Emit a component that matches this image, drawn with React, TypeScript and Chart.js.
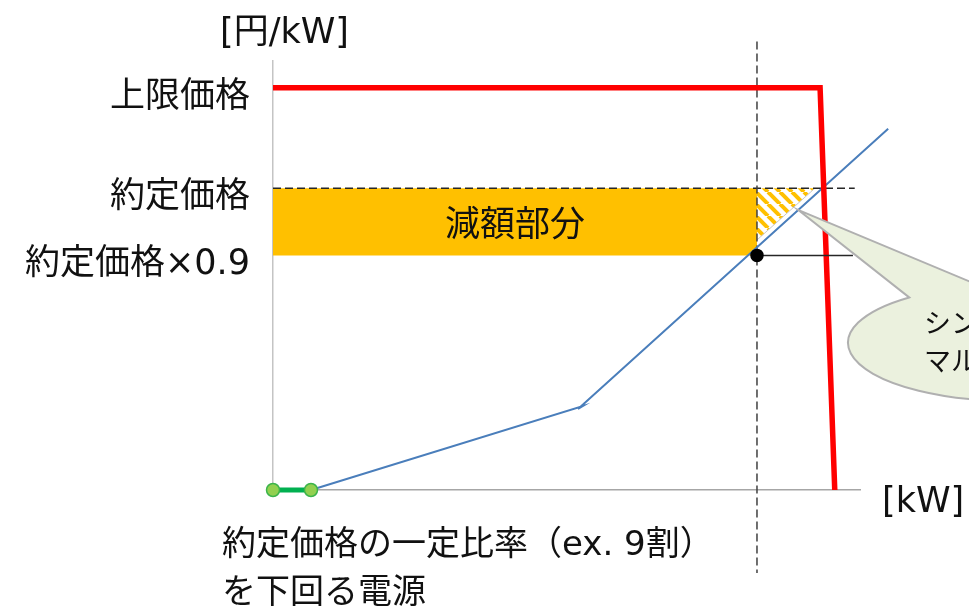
import { useEffect, useRef } from "react";
import { Chart, registerables } from "chart.js";

Chart.register(...registerables);

// Price levels in 円/kW, indexed so that the contract price is 100
const CONTRACT_PRICE = 100;
const REDUCTION_RATIO = 0.9;
const THRESHOLD_PRICE = CONTRACT_PRICE * REDUCTION_RATIO;
const UPPER_PRICE = 115;
const PRICE_MIN = 55;
const PRICE_MAX = 119;

// Capacity axis in kW (relative units)
const CAPACITY_MIN = 0;
const CAPACITY_MAX = 100;
const CLEARED_CAPACITY = 82.45;

// Supply curve
const supplyX = [6.47, 52.8, 51.96, 104.8];
const supplyY = [55, 67.54, 67.09, 108.9];

// Demand curve capped at the upper price
const demandX = [0, 93.2, 95.7];
const demandY = [UPPER_PRICE, UPPER_PRICE, 55];

// Sources bidding below contract price × 0.9
const excludedX = [0, 6.47];
const excludedY = [55, 55];

// Hatched margin between the contract price and the supply curve
const marginX = [CLEARED_CAPACITY, 92.3];
const marginY = [92.3, CONTRACT_PRICE];

// Reference lines
const contractLineX = [0, 99.1];
const clearedLineY = [121.9, 42.6];
const thresholdLineX = [CLEARED_CAPACITY, 98.8];

// Y-axis labels
const priceTickValues = [THRESHOLD_PRICE, CONTRACT_PRICE, UPPER_PRICE];
const priceTickLabels = ["約定価格×0.9", "約定価格", "上限価格"];

const yTitle = "[円/kW]";
const xTitle = "[kW]";
const reducedLabel = "減額部分";
const noteLines = ["約定価格の一定比率（ex. 9割）", "を下回る電源"];
const calloutLines = ["シングル", "マルチ"];

const FONT = "'DejaVu Sans', 'Noto Sans CJK JP', sans-serif";
const CJK_FONT = "'Noto Sans CJK JP', sans-serif";

const pts = (xs: number[], ys: number[]) => xs.map((x, i) => ({ x, y: ys[i] }));

function makeStripePattern(): CanvasPattern | string {
  const s = 12;
  const c = document.createElement("canvas");
  c.width = s;
  c.height = s;
  const g = c.getContext("2d");
  if (!g) return "#ffc000";
  g.fillStyle = "#ffffff";
  g.fillRect(0, 0, s, s);
  g.strokeStyle = "#ffc000";
  g.lineWidth = 4;
  for (let k = -1; k <= 1; k++) {
    g.beginPath();
    g.moveTo(k * s, 0);
    g.lineTo(k * s + s, s);
    g.stroke();
  }
  const p = g.createPattern(c, "repeat");
  return p ?? "#ffc000";
}

const textPlugin = {
  id: "diagramText",
  afterDraw(chart: any) {
    const { ctx, chartArea, scales } = chart;
    const xs = scales.x;
    const ys = scales.y;
    ctx.save();
    ctx.fillStyle = "#111";
    ctx.textBaseline = "middle";

    // axis titles
    ctx.font = `35px ${FONT}`;
    ctx.textAlign = "left";
    ctx.fillText(yTitle, chartArea.left - 53, chartArea.top - 27);
    ctx.fillText(xTitle, chartArea.right + 22, chartArea.bottom + 13);

    // label inside the reduced band
    const bandMidX = xs.getPixelForValue(CLEARED_CAPACITY / 2);
    const bandMidY = ys.getPixelForValue((CONTRACT_PRICE + THRESHOLD_PRICE) / 2);
    ctx.textAlign = "center";
    ctx.font = `35px ${CJK_FONT}`;
    ctx.fillText(reducedLabel, bandMidX, bandMidY + 1);

    // note under the axis
    ctx.textAlign = "left";
    ctx.font = `34px ${FONT}`;
    noteLines.forEach((t, i) => {
      ctx.fillText(t, chartArea.left - 51, chartArea.bottom + 56 + i * 48);
    });

    // callout bubble pointing at the hatched margin
    const tipX = xs.getPixelForValue(89.44);
    const tipY = ys.getPixelForValue(96.8);
    const cx = tipX + 212;
    const cy = tipY + 133;
    const rx = 162;
    const ry = 58;
    const aStart = (-100.7 * Math.PI) / 180;
    const aEnd = (-128.5 * Math.PI) / 180;
    ctx.beginPath();
    ctx.moveTo(tipX, tipY);
    ctx.ellipse(cx, cy, rx, ry, 0, aStart, aEnd, false);
    ctx.closePath();
    ctx.fillStyle = "#ebf1de";
    ctx.fill();
    ctx.lineWidth = 2;
    ctx.strokeStyle = "#b0b0b0";
    ctx.stroke();

    ctx.fillStyle = "#111";
    ctx.font = `27px ${CJK_FONT}`;
    ctx.textAlign = "left";
    calloutLines.forEach((t, i) => {
      ctx.fillText(t, cx - 86, cy - 20 + i * 38);
    });
    ctx.restore();
  },
};

export default function App() {
  const ref = useRef<HTMLCanvasElement | null>(null);

  useEffect(() => {
    const canvas = ref.current;
    if (!canvas) return;
    const stripes = makeStripePattern();

    const chart = new Chart(canvas, {
      type: "line",
      data: {
        datasets: [
          {
            label: "excluded",
            data: pts(excludedX, excludedY),
            borderColor: "#00b050",
            borderWidth: 5,
            pointRadius: 6.5,
            pointBackgroundColor: "#92d050",
            pointBorderColor: "#3cb44b",
            pointBorderWidth: 1.5,
            clip: false,
            order: 1,
          },
          {
            label: "threshold",
            data: pts(thresholdLineX, [THRESHOLD_PRICE, THRESHOLD_PRICE]),
            borderColor: "#262626",
            borderWidth: 1.5,
            pointRadius: [6, 0],
            pointBackgroundColor: "#000",
            pointBorderColor: "#000",
            clip: false,
            order: 2,
          },
          {
            label: "demand",
            data: pts(demandX, demandY),
            borderColor: "#ff0000",
            borderWidth: 5.5,
            borderJoinStyle: "miter",
            pointRadius: 0,
            clip: false,
            order: 3,
          },
          {
            label: "supply",
            data: pts(supplyX, supplyY),
            borderColor: "#4a7ebb",
            borderWidth: 2,
            pointRadius: 0,
            clip: false,
            order: 4,
          },
          {
            label: "cleared",
            data: pts([CLEARED_CAPACITY, CLEARED_CAPACITY], clearedLineY),
            borderColor: "#404040",
            borderWidth: 1.5,
            borderDash: [8, 4],
            pointRadius: 0,
            clip: false,
            order: 5,
          },
          {
            label: "contract",
            data: pts(contractLineX, [CONTRACT_PRICE, CONTRACT_PRICE]),
            borderColor: "#262626",
            borderWidth: 1.5,
            borderDash: [8, 4],
            pointRadius: 0,
            clip: false,
            order: 6,
          },
          {
            label: "margin",
            data: pts(marginX, marginY),
            borderColor: "#c8c8c8",
            borderWidth: 1,
            backgroundColor: stripes as any,
            fill: { value: CONTRACT_PRICE },
            pointRadius: 0,
            order: 7,
          },
          {
            label: "reduced",
            data: pts([CAPACITY_MIN, CLEARED_CAPACITY], [CONTRACT_PRICE, CONTRACT_PRICE]),
            borderWidth: 0,
            borderColor: "rgba(0,0,0,0)",
            backgroundColor: "#ffc000",
            fill: { value: THRESHOLD_PRICE },
            pointRadius: 0,
            order: 8,
          },
        ],
      },
      options: {
        responsive: false,
        animation: false,
        events: [],
        layout: { padding: { left: 0, right: 109, top: 61, bottom: 118 } },
        plugins: {
          legend: { display: false },
          tooltip: { enabled: false },
        },
        scales: {
          x: {
            type: "linear",
            min: CAPACITY_MIN,
            max: CAPACITY_MAX,
            grid: { display: false, drawTicks: false },
            border: { display: true, color: "#a6a6a6", width: 1.5 },
            ticks: { display: false },
            afterFit: (s: any) => {
              s.height = 0;
            },
          },
          y: {
            type: "linear",
            min: PRICE_MIN,
            max: PRICE_MAX,
            grid: { display: false, drawTicks: false },
            border: { display: true, color: "#c4c4c4", width: 1.5 },
            afterBuildTicks: (s: any) => {
              s.ticks = priceTickValues.map((v) => ({ value: v }));
            },
            afterFit: (s: any) => {
              s.width = 273;
            },
            ticks: {
              autoSkip: false,
              padding: 23,
              labelOffset: 10,
              color: "#111",
              font: { family: FONT, size: 35 },
              callback: (v: any) => {
                const i = priceTickValues.indexOf(Number(v));
                return i >= 0 ? priceTickLabels[i] : "";
              },
            },
          },
        },
      },
      plugins: [textPlugin],
    });

    return () => chart.destroy();
  }, []);

  return (
    <div
      style={{
        position: "fixed",
        left: 0,
        top: 0,
        width: 969,
        height: 608,
        background: "#ffffff",
        overflow: "hidden",
      }}
    >
      <canvas ref={ref} width={969} height={608} style={{ display: "block" }} />
    </div>
  );
}
